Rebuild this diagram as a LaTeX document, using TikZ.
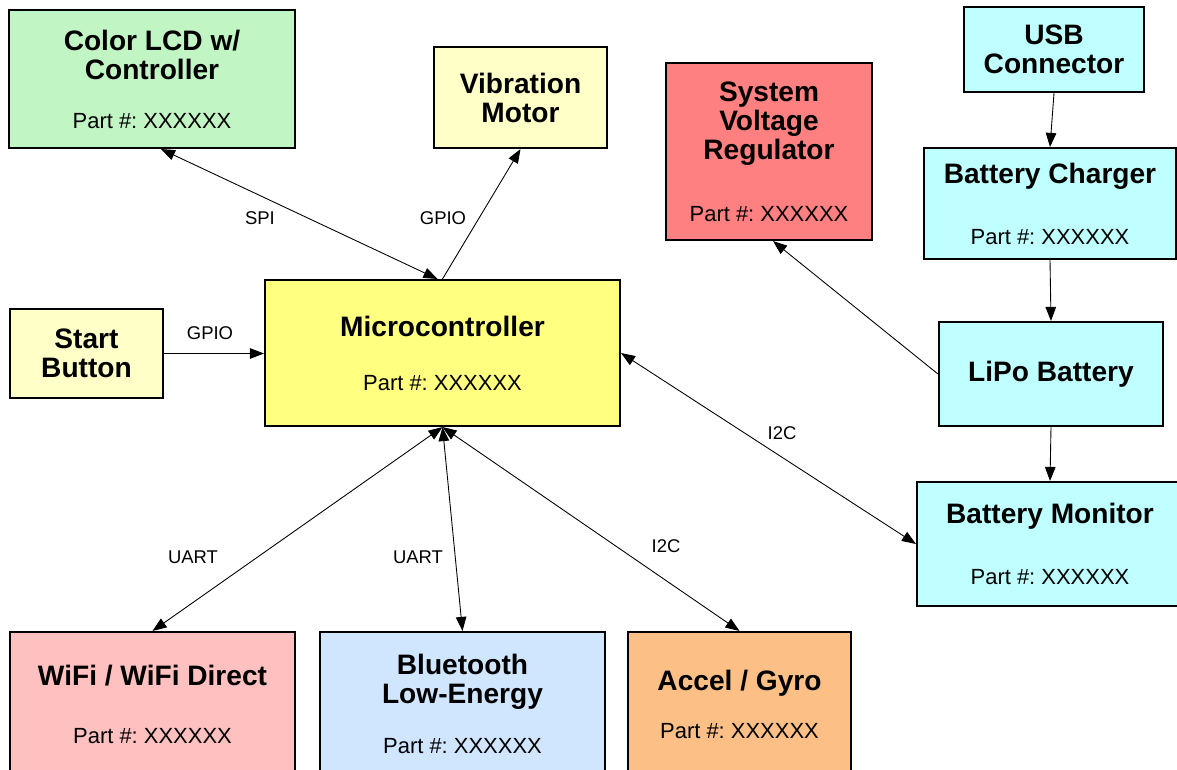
\documentclass[tikz,border=0pt]{standalone}
\usepackage{fontspec}
\setmainfont{Liberation Sans}
\usetikzlibrary{arrows.meta}

\definecolor{lcdgreen}{RGB}{194,245,196}
\definecolor{paleyellow}{RGB}{255,255,200}
\definecolor{mcuyellow}{RGB}{255,255,128}
\definecolor{regred}{RGB}{255,128,128}
\definecolor{powercyan}{RGB}{192,255,255}
\definecolor{wifipink}{RGB}{255,192,192}
\definecolor{btblue}{RGB}{208,230,255}
\definecolor{accorange}{RGB}{252,192,134}

\newcommand{\titlefont}{\fontsize{16}{16.5}\selectfont\bfseries}
\newcommand{\partfont}{\normalfont\fontsize{12.5}{14}\selectfont\frenchspacing}
\newcommand{\partno}{{\partfont Part \#: XXXXXX}}

\begin{document}
\begin{tikzpicture}[x=0.02cm,y=-0.02cm]
\tikzstyle{block}=[rectangle, draw, line width=1.2pt, align=center, font=\titlefont, inner sep=0pt]
\tikzstyle{bus}=[font=\fontsize{10.5}{12}\selectfont, inner sep=0pt]
\tikzstyle{link}=[line width=0.5pt, >={Triangle[length=8pt,width=6pt]}]

\clip (0,0) rectangle (1177,769);

% peripherals round the controller
\node[block, fill=lcdgreen, minimum width=5.72cm, minimum height=2.76cm] (lcd) at (152,79) {Color LCD w/\\Controller\\[11.4pt]\partno};
\node[block, fill=paleyellow, minimum width=3.46cm, minimum height=2.02cm] (vib) at (520.5,97.5) {Vibration\\Motor};
\node[block, fill=paleyellow, minimum width=3.06cm, minimum height=1.78cm] (start) at (86.5,353.5) {Start\\Button};
\node[block, fill=mcuyellow, minimum width=7.1cm, minimum height=2.92cm] (mcu) at (442.5,353) {Microcontroller\\[14.3pt]\partno};

% power
\node[block, fill=regred, minimum width=4.12cm, minimum height=3.54cm] (svr) at (769,151.5) {System\\Voltage\\Regulator\\[18.8pt]\partno};
\node[block, fill=powercyan, minimum width=3.6cm, minimum height=1.7cm] (usb) at (1054,49.5) {USB\\Connector};
\node[block, fill=powercyan, minimum width=5.04cm, minimum height=2.22cm] (chg) at (1050,203.5) {Battery Charger\\[18.2pt]\partno};
\node[block, fill=powercyan, minimum width=4.48cm, minimum height=2.08cm] (lipo) at (1051,374) {LiPo Battery};
\node[block, fill=powercyan, minimum width=5.32cm, minimum height=2.48cm] (mon) at (1050,544) {Battery Monitor\\[18.2pt]\partno};

% radios and sensors
\node[block, fill=wifipink, minimum width=5.7cm, minimum height=2.88cm] (wifi) at (152.5,704) {WiFi / WiFi Direct\\[16.5pt]\partno};
\node[block, fill=btblue, minimum width=5.7cm, minimum height=2.88cm] (bt) at (462.5,704) {Bluetooth\\Low-Energy\\[12pt]\partno};
\node[block, fill=accorange, minimum width=4.46cm, minimum height=2.88cm] (acc) at (739.5,704) {Accel / Gyro\\[10.9pt]\partno};

\path[link]
([xshift=0.18cm]lcd.south) edge[<->] ([xshift=-0.1cm]mcu.north)
(mcu.north) edge[->] (vib.south)
(start.east) edge[->] (start.east -| mcu.west)
(mcu.east) edge[<->] (mon.west)
(mcu.south) edge[<->] (wifi.north)
            edge[<->] (bt.north)
            edge[<->] (acc.north)
(usb.south) edge[->] (chg.north)
(chg.south) edge[->] (lipo.north)
(lipo.south) edge[->] (mon.north)
(lipo.west) edge[->] ([xshift=0.08cm]svr.south);

\node[bus] (spi) at (260,218) {SPI};
\node[bus] (gpiovib) at (443,218) {GPIO};
\node[bus] (gpiostart) at (210,333) {GPIO};
\node[bus] (i2cmon) at (782,433) {I2C};
\node[bus] (uartwifi) at (193,557) {UART};
\node[bus] (uartbt) at (418,557) {UART};
\node[bus] (i2cacc) at (666,546) {I2C};
\end{tikzpicture}
\end{document}
